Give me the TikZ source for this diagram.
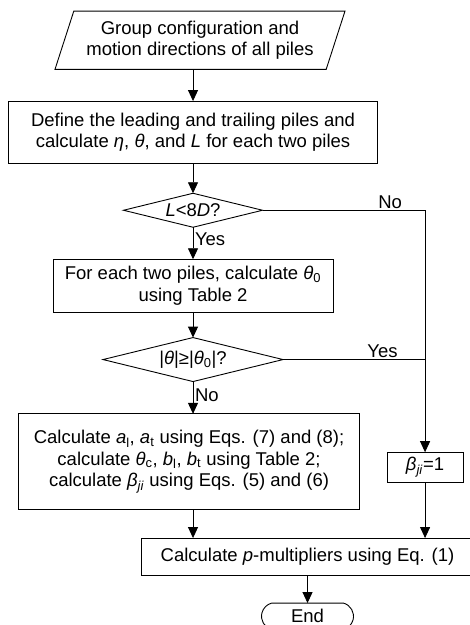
\documentclass[tikz,border=0pt]{standalone}
\usepackage{fontspec}
\setmainfont{Liberation Sans}
\usetikzlibrary{positioning, arrows.meta, shapes.geometric, shapes.misc}

\begin{document}
\begin{tikzpicture}[
  x=1pt, y=1pt,
  >={Triangle[length=11pt, width=10pt]},
  every node/.style={font=\fontsize{18.5}{21.5}\selectfont, line width=0.9pt, outer sep=0pt},
  proc/.style   = {draw, align=center, inner sep=2pt},
  data/.style   = {draw, trapezium, trapezium left angle=67.5, trapezium right angle=112.5,
                   trapezium stretches body, align=center, minimum width=290pt, minimum height=58.3pt},
  decide/.style = {draw, diamond, aspect=4.1, inner sep=0pt},
  term/.style   = {draw, rounded rectangle, rounded rectangle arc length=150,
                   minimum width=92pt, minimum height=26.5pt, inner sep=0pt},
  lbl/.style    = {inner sep=2pt},
  arr/.style    = {->, line width=0.9pt},
]
  \useasboundingbox (0,0) rectangle (470,-625);

  \node[data] (in) at (200,-40.2) {Group configuration and\\motion directions of all piles};
  \node[proc, below=31.7pt of in, xshift=-7pt, minimum width=369pt, minimum height=62.5pt] (def)
       {Define the leading and trailing piles and\\calculate \textit{η}, \textit{θ}, and \textit{L} for each two piles};
  \node[decide, below=29.7pt of def, minimum width=139pt, minimum height=34pt] (lcond)
       {\textit{L}<8\textit{D}?};
  \node[proc, below=32pt of lcond, minimum width=280pt, minimum height=52.7pt] (tab)
       {For each two piles, calculate \textit{θ}\textsubscript{0}\\using Table 2};
  \node[decide, below=25.6pt of tab, minimum width=180pt, minimum height=44pt] (tcond)
       {|\textit{θ}|≥|\textit{θ}\textsubscript{0}|?};
  \node[proc, below=32.3pt of tcond, xshift=-4pt, minimum width=340.5pt, minimum height=95.7pt] (calc)
       {Calculate \textit{a}\textsubscript{l}, \textit{a}\textsubscript{t} using Eqs. (7) and (8);\\
        calculate \textit{θ}\textsubscript{c}, \textit{b}\textsubscript{l}, \textit{b}\textsubscript{t} using Table 2;\\
        calculate \textit{β}\textsubscript{\textit{ji}} using Eqs. (5) and (6)};
  \node[proc, right=27.8pt of calc, yshift=-5.5pt, minimum width=76pt, minimum height=30pt] (beta)
       {\textit{β}\textsubscript{\textit{ji}}=1};
  \node[proc, below=28.5pt of calc, xshift=118.5pt, minimum width=333pt, minimum height=37.5pt] (pmul)
       {Calculate \textit{p}-multipliers using Eq. (1)};
  \node[term, below=27.5pt of pmul] (fin) {End};

  \foreach \a/\b in {in/def, def/lcond, tab/tcond, calc/pmul}
     \draw[arr] (\a.south -| lcond) -- (\b.north -| lcond);
  \draw[arr] (lcond) -- node[lbl, right, pos=0.375] {Yes} (tab);
  \draw[arr] (tcond) -- node[lbl, right, pos=0.43] {No} (calc.north -| tcond);
  \draw[arr] (pmul) -- (fin);
  \draw[arr] (lcond.east) -- node[lbl, above, pos=0.785] {No} (lcond.east -| beta) -- (beta);
  \draw[line width=0.9pt] (tcond.east) -- node[lbl, above, pos=0.7] {Yes} (tcond.east -| beta);
  \draw[arr] (beta) -- (pmul.north -| beta);
\end{tikzpicture}
\end{document}
